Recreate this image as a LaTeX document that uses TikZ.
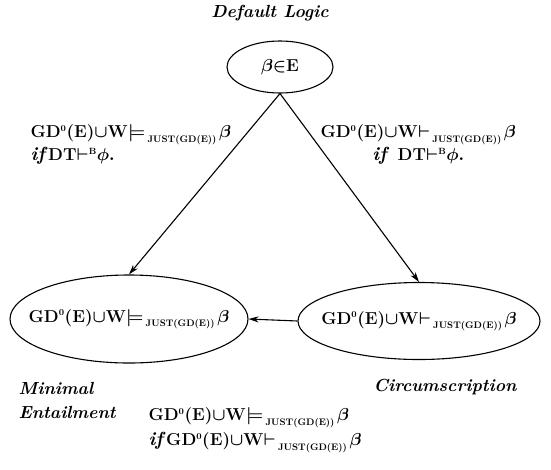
\documentclass[tikz,border=0pt]{standalone}
\usepackage{amsmath,amssymb}
\usepackage{tikz}
\usetikzlibrary{shapes.geometric,arrows.meta}

\newcommand{\gdew}{\mathbf{GD}^{\scriptscriptstyle 0}(\mathbf{E})\mathord{\cup}\mathbf{W}}
\newcommand{\jsub}{\mkern2mu{}_{\lower2pt\hbox{$\scriptscriptstyle\text{JUST(GD(E))}$}}\mkern2mu}
\newcommand{\ent}{\mathord{\models}\jsub\beta}
\newcommand{\der}{\mathord{\vdash}\jsub\beta}
\newcommand{\dtphi}{\mathbf{DT}\mathord{\vdash}^{\scriptscriptstyle\mathbf{B}}\phi.}

\begin{document}
\begin{tikzpicture}[x=1pt,y=-1pt,line width=1.1pt,
    every node/.style={font=\fontsize{19}{23}\selectfont\bfseries\boldmath},
    state/.style={ellipse,draw,inner sep=0pt},
    title/.style={font=\fontsize{17.5}{24}\selectfont\bfseries\itshape,inner sep=0pt},
    rule/.style={inner sep=0pt,align=left},
    arr/.style={-{Stealth[length=10pt,width=6pt,inset=3pt]}}]
\useasboundingbox (0,0) rectangle (551,469);
\node[title] (dl) at (270,13) {Default Logic};
\node[state,minimum width=106pt,minimum height=52pt] (top) at (280,67) {\makebox[0pt]{$\beta\mathord{\in}\mathbf{E}$}};
\node[state,minimum width=238pt,minimum height=88pt] (lft) at (129,319) {\makebox[0pt]{$\gdew\ent$}};
\node[state,minimum width=242pt,minimum height=77pt] (rgt) at (419,321) {\makebox[0pt]{$\gdew\der$}};
% labels on the arrows
\node[rule,anchor=north west] (lrule) at (30,124) {$\gdew\ent$\\
    $\textit{if}\,\dtphi$};
\node[rule,align=center,anchor=north west] (rrule) at (320,124) {$\gdew\der$\\
    $\textit{if}\;\;\dtphi$};
\node[rule,anchor=north west] (brule) at (148,407) {$\gdew\ent$\\[2pt]
    $\textit{if}\,\gdew\der$};
\node[title,align=left,anchor=north west] (me) at (18,382) {Minimal\\Entailment};
\node[title,anchor=north west] (ci) at (373,379) {Circumscription};
\draw[arr] (top.south) -- (lft.north);
\draw[arr] (top.south) -- (rgt.north);
\draw[arr] (rgt.west) -- (lft.east);
\end{tikzpicture}
\end{document}
